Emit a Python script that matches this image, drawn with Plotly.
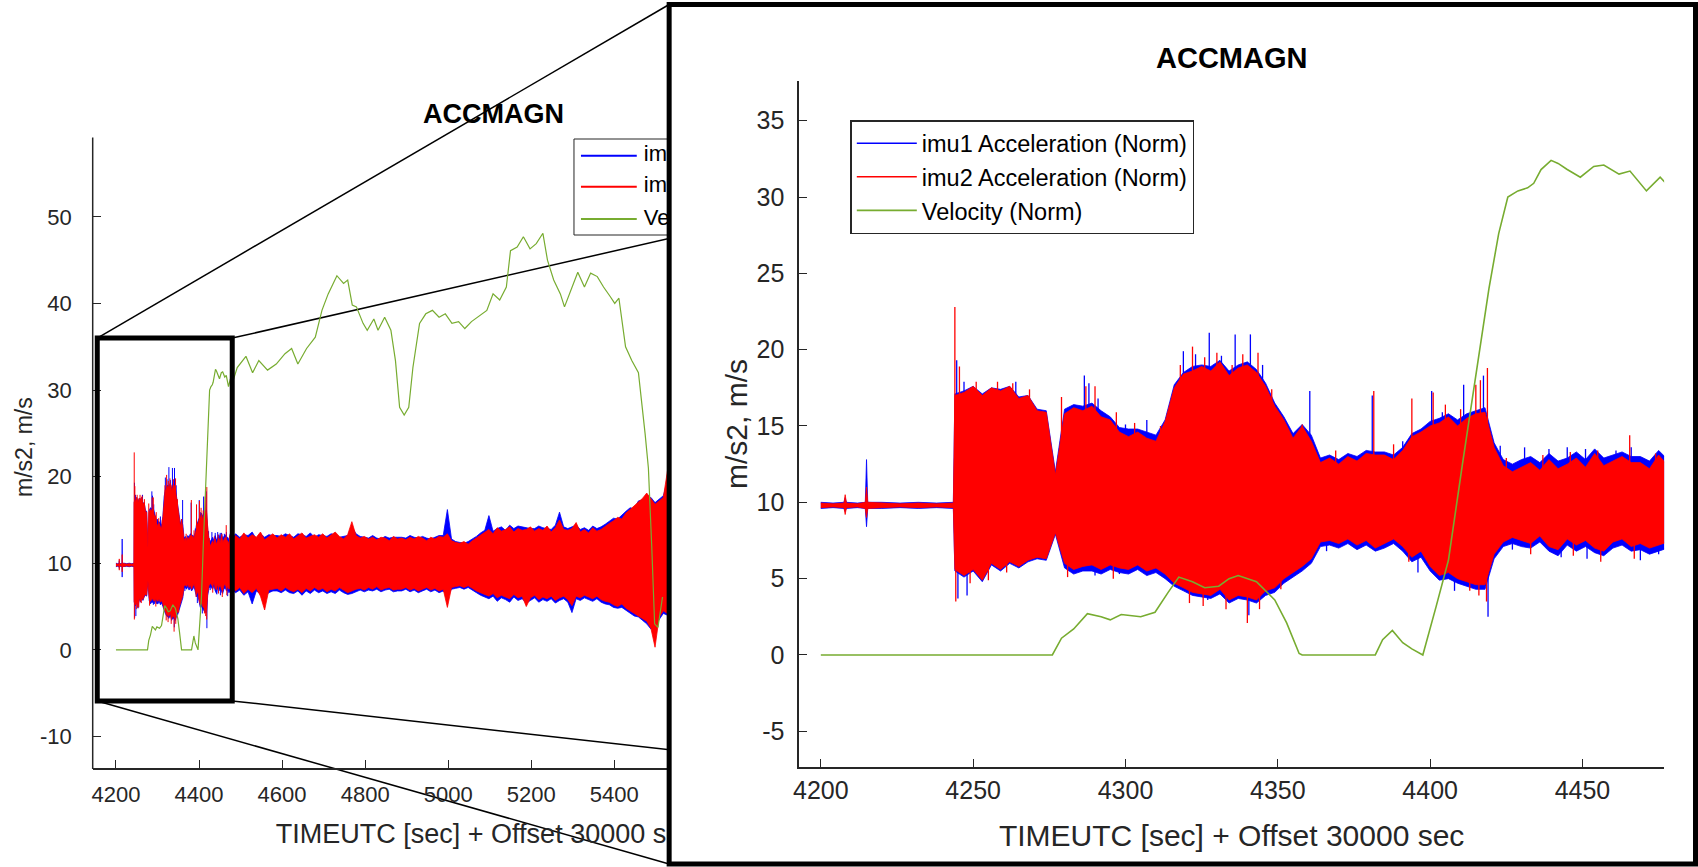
import plotly.graph_objects as go

W, H = 1698, 867
FONT = "Liberation Sans, Arial, Helvetica, sans-serif"
AX = "#262626"
C_IMU1 = "#0000FF"
C_IMU2 = "#FF0000"
C_VEL = "#77AC30"

TITLE = "ACCMAGN"
X_LABEL = "TIMEUTC [sec] + Offset 30000 sec"
Y_LABEL = "m/s2, m/s"
NAMES = ["imu1 Acceleration (Norm)", "imu2 Acceleration (Norm)", "Velocity (Norm)"]

MAIN_X_TICKS = [4200, 4400, 4600, 4800, 5000, 5200, 5400]
MAIN_Y_TICKS = [-10, 0, 10, 20, 30, 40, 50]
INS_X_TICKS = [4200, 4250, 4300, 4350, 4400, 4450]
INS_Y_TICKS = [-5, 0, 5, 10, 15, 20, 25, 30, 35]

# ---- acceleration norms: upper / lower edge of the dense noise band
PRE_T = [4200, 4204, 4207.6, 4208, 4208.4, 4212, 4214.6, 4215, 4215.4, 4220, 4226, 4232, 4238, 4243.5]
RU_PRE = [9.95, 9.9, 9.95, 10.5, 9.95, 9.9, 10.0, 11.0, 10.0, 9.95, 9.9, 9.95, 9.9, 9.95]
RL_PRE = [9.65, 9.7, 9.65, 9.2, 9.65, 9.7, 9.6, 9.0, 9.6, 9.65, 9.7, 9.65, 9.7, 9.65]
BU_PRE = [10.0, 9.95, 10.0, 10.3, 10.0, 9.95, 10.0, 12.8, 10.0, 10.0, 9.95, 10.0, 9.95, 10.0]
BL_PRE = [9.6, 9.65, 9.6, 9.4, 9.6, 9.65, 9.6, 8.4, 9.6, 9.6, 9.65, 9.6, 9.65, 9.6]

T_FINE = [4244, 4247, 4250, 4253, 4256, 4259, 4262, 4265, 4268, 4271, 4274, 4277,
          4280, 4283, 4286, 4289, 4292, 4295, 4298, 4301, 4304, 4307, 4310, 4313,
          4316, 4319, 4322, 4325, 4328, 4331, 4334, 4337, 4340, 4343,
          4346, 4349, 4352, 4355, 4358, 4361,
          4364, 4367, 4370, 4373, 4376, 4379, 4382, 4385, 4388, 4391,
          4394, 4397, 4400, 4403, 4406, 4409, 4412, 4415, 4418,
          4421, 4424, 4427, 4430, 4433, 4436, 4439, 4442, 4445, 4448,
          4451, 4454, 4457, 4460, 4463, 4466, 4469, 4472, 4475, 4478]
RU_FINE = [17.0, 17.2, 17.6, 17.0, 17.5, 17.3, 17.6, 16.8, 17.0, 16.0, 15.9, 11.8,
           15.8, 16.2, 16.0, 16.3, 15.6, 15.4, 14.6, 14.3, 14.6, 14.2, 14.0, 15.3,
           17.5, 18.4, 18.6, 18.9, 18.6, 19.2, 18.3, 18.8, 19.0, 18.5,
           17.6, 16.3, 15.4, 14.2, 15.0, 14.0,
           12.6, 12.9, 12.5, 13.0, 12.7, 13.2, 13.1, 13.1, 12.8, 13.4,
           14.3, 14.6, 15.0, 15.2, 15.6, 15.0, 15.5, 15.8, 15.9,
           13.6, 12.4, 12.0, 12.3, 12.6, 12.1, 12.8, 12.2, 12.5, 12.9,
           12.3, 13.2, 12.4, 12.7, 13.0, 12.6, 12.6, 12.2, 13.1, 12.4]
RL_FINE = [5.6, 5.2, 5.6, 4.9, 6.0, 5.6, 6.1, 5.8, 6.2, 6.4, 6.3, 8.0,
           6.0, 5.6, 5.8, 5.9, 5.6, 5.9, 5.7, 5.6, 5.9, 5.5, 5.7, 5.3,
           4.7, 4.4, 4.1, 4.0, 3.9, 4.3, 3.6, 3.9, 3.8, 3.6,
           4.2, 4.4, 5.0, 5.4, 5.8, 6.3,
           7.4, 7.5, 7.3, 7.6, 7.2, 7.5, 7.0, 7.3, 7.6, 7.1,
           6.4, 6.8, 5.8, 5.2, 5.4, 5.0, 4.8, 4.6, 4.6,
           6.6, 7.4, 7.7, 7.5, 7.3, 7.8, 7.1, 6.9, 7.6, 7.2,
           7.5, 7.0, 6.8, 7.4, 7.6, 7.1, 7.3, 7.0, 7.2, 7.4]
BU_FINE = [17.1, 17.3, 17.6, 17.1, 17.5, 17.4, 17.6, 16.9, 17.0, 16.1, 16.0, 12.0,
           16.1, 16.4, 16.3, 16.5, 16.0, 15.6, 14.9, 14.8, 14.8, 14.6, 14.4, 15.4,
           17.7, 18.5, 18.9, 19.0, 18.9, 19.3, 18.6, 19.0, 19.2, 18.7,
           17.8, 16.5, 15.6, 14.5, 15.1, 14.4,
           12.9, 13.1, 12.8, 13.2, 13.0, 13.4, 13.3, 13.3, 13.1, 13.6,
           14.5, 14.8, 15.3, 15.5, 15.8, 15.4, 15.8, 16.0, 16.2,
           13.9, 12.8, 12.5, 12.8, 13.0, 12.6, 13.2, 12.7, 12.9, 13.3,
           12.8, 13.5, 12.9, 13.1, 13.3, 13.0, 13.0, 12.7, 13.4, 12.8]
BL_FINE = [5.5, 5.1, 5.5, 4.8, 5.9, 5.5, 6.0, 5.7, 6.1, 6.3, 6.2, 7.9,
           5.7, 5.3, 5.5, 5.5, 5.3, 5.6, 5.4, 5.3, 5.6, 5.2, 5.4, 5.0,
           4.5, 4.2, 3.9, 3.8, 3.7, 4.0, 3.4, 3.7, 3.6, 3.4,
           3.9, 4.1, 4.7, 5.1, 5.5, 6.0,
           7.1, 7.2, 7.0, 7.3, 6.9, 7.2, 6.8, 7.0, 7.3, 6.8,
           6.1, 6.4, 5.5, 4.9, 5.0, 4.7, 4.5, 4.3, 4.3,
           6.3, 7.1, 7.3, 7.1, 7.0, 7.4, 6.8, 6.5, 7.2, 6.8,
           7.1, 6.7, 6.5, 7.0, 7.2, 6.8, 6.9, 6.6, 6.8, 7.0]

T_COARSE = [4488, 4498, 4508, 4518, 4528, 4538, 4548, 4558, 4568, 4578,
            4588, 4598, 4608, 4618, 4628, 4638, 4648, 4658, 4668, 4678,
            4688, 4698, 4708, 4718, 4728, 4738, 4748, 4758, 4768, 4778,
            4788, 4798, 4808, 4818, 4828, 4838, 4848, 4858, 4868, 4878,
            4888, 4898, 4908, 4918, 4928, 4938, 4948, 4958, 4968, 4978,
            4988, 4998, 5008, 5018, 5028, 5038, 5048, 5058, 5068, 5078,
            5088, 5098, 5108, 5118, 5128, 5138, 5148, 5158, 5168, 5178,
            5188, 5198, 5208, 5218, 5228, 5238, 5248, 5258, 5268, 5278,
            5288, 5298, 5308, 5318, 5328, 5338, 5348, 5358, 5368, 5378,
            5388, 5398, 5408, 5418, 5428, 5438, 5448, 5458, 5468, 5478,
            5488, 5498, 5508, 5518, 5528, 5538, 5548]
RU_COARSE = [13.2, 12.8, 13.5, 12.9, 13.3, 13.0, 13.6, 12.7, 13.1, 13.4,
             12.9, 13.3, 13.0, 13.4, 12.8, 13.2, 13.5, 12.9, 13.1, 13.3,
             13.0, 13.4, 12.9, 13.2, 13.6, 13.1, 12.8, 13.3, 14.8, 13.2,
             12.9, 13.1, 12.8, 13.0, 12.7, 13.0, 12.9, 12.6, 13.1, 12.8,
             12.9, 12.7, 13.0, 12.8, 13.1, 12.9, 12.6, 13.0, 12.8, 13.1,
             13.0, 13.4, 12.6, 12.4, 12.3, 12.5, 12.2, 12.6, 12.9, 13.3,
             13.6, 13.9, 13.4, 14.1, 13.7, 13.9, 14.2, 13.6, 14.0, 13.8,
             13.9, 14.2, 13.7, 14.0, 13.8, 14.3, 13.6, 14.1, 15.0, 13.9,
             13.8, 14.0, 14.7, 13.6, 13.9, 13.5, 14.1, 13.7, 13.9, 14.3,
             14.6, 14.9, 15.3, 15.1, 15.8, 16.2, 16.6, 17.0, 17.5, 18.1,
             17.4, 16.8, 17.2, 17.6, 20.7, 16.5, 15.8]
RL_COARSE = [6.8, 7.2, 6.5, 7.0, 6.6, 7.1, 6.2, 4.6, 6.9, 7.0,
             7.1, 6.8, 7.2, 6.9, 6.7, 7.0, 6.6, 7.1, 6.8, 7.2,
             6.9, 7.1, 6.7, 7.0, 6.8, 7.2, 6.9, 6.6, 6.8, 7.0,
             7.1, 6.9, 7.2, 7.0, 7.3, 6.9, 7.1, 7.2, 6.9, 7.0,
             7.0, 7.2, 6.9, 7.1, 6.8, 7.0, 7.2, 6.9, 7.1, 6.8,
             7.0, 4.9, 7.2, 7.3, 7.4, 7.2, 7.4, 7.1, 6.8, 6.6,
             6.4, 6.2, 6.5, 6.0, 6.3, 6.1, 5.9, 6.4, 6.0, 6.2,
             5.0, 6.0, 6.3, 5.8, 6.1, 5.9, 6.2, 5.7, 6.0, 6.2,
             5.8, 5.1, 6.2, 6.0, 6.3, 6.1, 5.9, 6.2, 5.8, 5.6,
             5.5, 5.2, 5.0, 5.3, 4.8, 4.6, 4.2, 4.0, 3.6, 3.3,
             2.5, 0.3, 3.8, 4.5, 4.2, 4.8, 5.2]
BU_COARSE = [13.4, 13.0, 13.3, 13.2, 13.6, 12.8, 13.4, 13.0, 13.3, 13.2,
             13.2, 13.1, 13.4, 13.2, 13.0, 13.4, 13.3, 13.1, 13.5, 13.0,
             13.3, 13.2, 13.1, 13.4, 13.3, 13.0, 13.1, 13.2, 14.2, 13.4,
             13.1, 13.0, 12.9, 13.2, 12.9, 12.8, 13.1, 12.9, 13.0, 13.0,
             13.0, 12.9, 13.2, 13.0, 12.9, 13.1, 12.9, 12.8, 13.0, 13.2,
             13.2, 16.2, 12.8, 12.5, 12.4, 12.3, 12.5, 12.8, 13.1, 13.5,
             13.8, 15.5, 13.7, 14.0, 14.2, 13.8, 14.4, 14.0, 14.3, 14.2,
             14.1, 14.0, 14.0, 14.3, 14.1, 14.0, 13.9, 14.4, 15.9, 14.2,
             14.0, 14.2, 14.4, 13.9, 14.1, 13.8, 14.3, 14.0, 14.2, 14.5,
             14.8, 15.2, 15.1, 15.6, 16.0, 16.4, 16.3, 17.2, 17.3, 17.6,
             17.6, 17.0, 17.4, 17.8, 19.5, 16.8, 16.0]
BL_COARSE = [6.6, 6.9, 6.3, 6.7, 5.3, 6.8, 6.4, 6.1, 6.6, 6.8,
             6.8, 6.6, 6.9, 6.6, 6.5, 6.8, 6.3, 6.8, 6.5, 6.9,
             6.6, 6.8, 6.5, 6.7, 6.5, 6.9, 6.6, 6.4, 6.5, 6.7,
             6.9, 6.7, 6.9, 6.8, 7.0, 6.7, 6.9, 7.0, 6.7, 6.8,
             6.8, 7.0, 6.7, 6.9, 6.6, 6.8, 7.0, 6.7, 6.9, 6.6,
             6.8, 6.2, 7.0, 7.1, 7.2, 7.0, 7.2, 6.9, 6.6, 6.3,
             6.1, 5.9, 6.2, 5.6, 6.0, 5.8, 5.5, 6.1, 5.7, 5.9,
             5.4, 5.7, 6.0, 5.5, 5.8, 5.6, 5.9, 5.4, 5.7, 5.9,
             5.5, 4.3, 5.9, 5.7, 6.0, 5.8, 5.6, 5.9, 5.5, 5.3,
             5.2, 4.9, 4.8, 4.9, 4.6, 4.2, 3.9, 3.8, 3.4, 3.0,
             2.4, 2.8, 3.5, 4.2, 4.0, 4.5, 5.0]

# isolated single-sample peaks sticking out of the band (time, value reached)
RED_SPIKE_T = [4244, 4245.5, 4251, 4258, 4263, 4268.5, 4279, 4287, 4290, 4297, 4303, 4311.5,
               4318, 4322, 4326, 4330, 4335, 4338.5, 4343.5, 4348, 4358, 4369, 4381.5, 4388,
               4394, 4401, 4405, 4410, 4415, 4416.5, 4418.8, 4425, 4437, 4446, 4455, 4465.5, 4474,
               4244.3, 4249, 4255, 4261, 4281, 4296, 4321, 4325.5, 4333, 4340, 4344, 4351,
               4393, 4413, 4416, 4418.5, 4433, 4447, 4456, 4467]
RED_SPIKE_V = [22.8, 18.9, 17.9, 17.9, 17.8, 17.4, 16.9, 17.6, 17.6, 15.9, 15.2, 15.0,
               19.0, 20.2, 19.5, 19.8, 19.0, 19.7, 19.8, 17.4, 15.1, 13.4, 17.3, 13.8,
               16.8, 17.2, 16.4, 16.1, 17.7, 18.0, 18.8, 12.9, 13.1, 13.3, 13.4, 14.4, 13.2,
               3.5, 4.7, 4.9, 5.4, 5.1, 5.0, 3.4, 3.2, 3.0, 2.1, 3.0, 4.3,
               6.1, 4.2, 3.9, 3.5, 6.6, 6.5, 6.1, 6.3]
BLUE_SPIKE_T = [4244.6, 4247, 4264, 4286.5, 4288, 4291, 4300, 4307, 4319, 4323, 4327.5, 4331.5,
                4336, 4341, 4345, 4360.5, 4381, 4391, 4400.5, 4404, 4411, 4417.5, 4423, 4431,
                4439, 4445, 4451, 4461, 4466,
                4245, 4248, 4290, 4298, 4327, 4340.5, 4366, 4396, 4408, 4419, 4427, 4443,
                4451.5, 4469, 4475]
BLUE_SPIKE_V = [19.3, 17.9, 17.9, 18.3, 17.8, 16.8, 15.1, 15.4, 19.9, 19.7, 21.1, 19.6,
                21.0, 21.0, 19.0, 17.3, 17.0, 14.0, 17.3, 15.9, 17.7, 18.3, 13.7, 13.6,
                13.5, 13.6, 13.5, 13.4, 13.6,
                3.7, 3.9, 5.2, 5.3, 3.6, 2.6, 6.8, 5.4, 4.2, 2.5, 6.9, 6.4,
                6.3, 6.2, 6.6]
SPIKE_BASE = 9.8

# ---- velocity norm
VEL_T = [4200, 4276, 4279, 4283, 4287.5, 4292, 4295, 4298.6, 4305, 4309.7, 4314, 4317.5,
         4322, 4326, 4330.6, 4334, 4337, 4343, 4349, 4352.9, 4357, 4358, 4382, 4384.4,
         4387.6, 4391, 4394, 4397.6, 4402, 4406, 4410.6, 4414, 4419.3, 4422.5, 4425.5,
         4428.8, 4432, 4434, 4436.4, 4439.7, 4442, 4445, 4449.3, 4453.7, 4457, 4462,
         4465.6, 4471, 4475.5, 4478.8,
         4492, 4513, 4529, 4544, 4565, 4586, 4607, 4623, 4638, 4659, 4680, 4696, 4711,
         4732, 4748, 4758, 4769, 4779, 4795, 4805, 4821, 4831, 4847, 4862, 4873, 4883,
         4894, 4905, 4915, 4931, 4946, 4962, 4978, 4993, 5009, 5025, 5040, 5056, 5077,
         5093, 5108, 5124, 5140, 5150, 5166, 5181, 5197, 5212, 5228, 5239, 5254, 5270,
         5280, 5296, 5312, 5328, 5343, 5359, 5374, 5390, 5401, 5411, 5427, 5442, 5458,
         5474, 5482, 5490, 5497, 5505, 5516]
VEL_V = [0.0, 0.0, 1.1, 1.7, 2.7, 2.5, 2.3, 2.65, 2.5, 2.8, 4.1, 5.1,
         4.8, 4.4, 4.5, 5.0, 5.2, 4.8, 3.6, 2.1, 0.1, 0.0, 0.0, 1.0,
         1.6, 0.8, 0.4, 0.0, 3.2, 6.2, 12.5, 17.0, 24.0, 27.6, 30.0,
         30.4, 30.6, 30.9, 31.8, 32.4, 32.2, 31.8, 31.3, 32.0, 32.1, 31.5,
         31.7, 30.4, 31.3, 30.6,
         32.6, 33.9, 32.0, 33.4, 32.3, 33.0, 34.2, 34.8, 33.0, 34.8, 36.1, 39.2, 41.1,
         43.2, 42.3, 42.7, 39.8, 39.6, 37.7, 36.9, 38.2, 36.9, 38.4, 36.9, 33.4, 28.0,
         27.1, 28.0, 32.6, 37.7, 38.8, 39.2, 38.4, 38.8, 37.7, 37.9, 37.1, 37.9, 38.6,
         39.2, 41.1, 40.4, 41.9, 46.1, 46.5, 47.7, 46.3, 46.9, 48.1, 45.0, 42.7, 41.1,
         39.6, 41.5, 43.6, 41.9, 43.5, 43.1, 41.9, 40.8, 40.0, 40.6, 35.0, 33.4, 32.0,
         25.0, 21.0, 12.0, 3.0, 2.6, 6.1]

T_ALL = PRE_T + T_FINE + T_COARSE
RU = RU_PRE + RU_FINE + RU_COARSE
RL = RL_PRE + RL_FINE + RL_COARSE
BU = BU_PRE + BU_FINE + BU_COARSE
BL = BL_PRE + BL_FINE + BL_COARSE

# ---- layout geometry (pixels)
MAIN_L, MAIN_R, MAIN_T, MAIN_B = 87, 885, 137.5, 769     # main axes box (x-axis line at MAIN_B)
MAIN_DB = 867                                            # main y domain runs to the bottom edge
MAIN_XR = [4144, 6058.6]
AXIS_YR = [-13.76, 59.16]                                # values at MAIN_B and MAIN_T
INS_L, INS_R, INS_T, INS_B = 796, 1664, 81, 767
INS_XR = [4192.9, 4476.8]
INS_YR = [-7.34, 37.6]
FRAME = (665.5, 4.5, 1695.5, 864.0)
ZOOM_X = (4155, 4480)
ZOOM_Y = (-5.9, 36.0)


def fx(p):
    return p / W


def fy(p):
    return 1 - p / H


def mx(v):
    return MAIN_L + (v - MAIN_XR[0]) / (MAIN_XR[1] - MAIN_XR[0]) * (MAIN_R - MAIN_L)


def my(v):
    return MAIN_B - (v - AXIS_YR[0]) / (AXIS_YR[1] - AXIS_YR[0]) * (MAIN_B - MAIN_T)


def imx(p):
    return MAIN_XR[0] + (p - MAIN_L) / (MAIN_R - MAIN_L) * (MAIN_XR[1] - MAIN_XR[0])


def imy(p):
    return AXIS_YR[0] + (MAIN_B - p) / (MAIN_B - MAIN_T) * (AXIS_YR[1] - AXIS_YR[0])


MAIN_YR = [imy(MAIN_DB), AXIS_YR[1]]


def band(upper, lower):
    return T_ALL + T_ALL[::-1], upper + lower[::-1]


def spikes(ts, vs):
    xs, ys = [], []
    for t, v in zip(ts, vs):
        xs += [t, t, None]
        ys += [SPIKE_BASE, v, None]
    return xs, ys


fig = go.Figure()

for xa, ya, vw, sw in (("x", "y", 1.2, 1.0), ("x3", "y3", 1.6, 1.3)):
    if xa == "x3":
        # invisible subplot whose white background hides the main plot behind the magnified view
        fig.add_trace(go.Scatter(x=[None], y=[None], xaxis="x2", yaxis="y2", mode="lines",
                                 showlegend=False, hoverinfo="skip"))
    for up, lo, st, sv, col in ((BU, BL, BLUE_SPIKE_T, BLUE_SPIKE_V, C_IMU1),
                                (RU, RL, RED_SPIKE_T, RED_SPIKE_V, C_IMU2)):
        bx, by = band(up, lo)
        fig.add_trace(go.Scatter(x=bx, y=by, mode="lines", fill="toself", fillcolor=col,
                                 line=dict(color=col, width=0.8), xaxis=xa, yaxis=ya,
                                 showlegend=False, hoverinfo="skip"))
        sx, sy = spikes(st, sv)
        fig.add_trace(go.Scatter(x=sx, y=sy, mode="lines", line=dict(color=col, width=sw),
                                 xaxis=xa, yaxis=ya, showlegend=False, hoverinfo="skip"))
    if xa == "x3":
        fig.add_trace(go.Scatter(x=[None], y=[None], mode="lines", name=NAMES[0],
                                 line=dict(color=C_IMU1, width=1.5), xaxis=xa, yaxis=ya))
        fig.add_trace(go.Scatter(x=[None], y=[None], mode="lines", name=NAMES[1],
                                 line=dict(color=C_IMU2, width=1.5), xaxis=xa, yaxis=ya))
    fig.add_trace(go.Scatter(x=VEL_T, y=VEL_V, mode="lines", name=NAMES[2],
                             line=dict(color=C_VEL, width=vw), xaxis=xa, yaxis=ya,
                             showlegend=(xa == "x3"), hoverinfo="skip"))

# main-plot legend and x label (partly hidden behind the magnified view)
ML_BOX = (570, 139, 880, 235)
ML_ROWS = [155.7, 186.7, 219.0]
ML_LINE = (577, 633)
ML_TEXT_X = 640
fig.add_trace(go.Scatter(x=[imx(ML_TEXT_X)] * 3, y=[imy(r) for r in ML_ROWS], mode="text",
                         text=NAMES, textposition="middle right", cliponaxis=True,
                         textfont=dict(size=22, color="black", family=FONT),
                         xaxis="x", yaxis="y", showlegend=False, hoverinfo="skip"))
MAIN_XLABEL_POS = (481, 836)
fig.add_trace(go.Scatter(x=[imx(MAIN_XLABEL_POS[0])], y=[imy(MAIN_XLABEL_POS[1])], mode="text",
                         text=[X_LABEL], textposition="middle center", cliponaxis=True,
                         textfont=dict(size=27, color=AX, family=FONT),
                         xaxis="x", yaxis="y", showlegend=False, hoverinfo="skip"))

shapes = [dict(type="rect", xref="x", yref="y", layer="below",
               x0=imx(ML_BOX[0]), x1=imx(ML_BOX[2]), y0=imy(ML_BOX[3]), y1=imy(ML_BOX[1]),
               line=dict(color=AX, width=1), fillcolor="white")]
for r, c in zip(ML_ROWS, (C_IMU1, C_IMU2, C_VEL)):
    shapes.append(dict(type="line", xref="x", yref="y", layer="below",
                       x0=imx(ML_LINE[0]), x1=imx(ML_LINE[1]), y0=imy(r), y1=imy(r),
                       line=dict(color=c, width=2)))
# main y-axis line (the y domain extends below the x axis)
shapes.append(dict(type="line", xref="paper", yref="paper", layer="above",
                   x0=fx(MAIN_L), x1=fx(MAIN_L), y0=fy(MAIN_B), y1=fy(MAIN_T),
                   line=dict(color=AX, width=1.5)))

# zoom rectangle on the main plot
shapes.append(dict(type="rect", xref="x", yref="y", layer="above",
                   x0=ZOOM_X[0], x1=ZOOM_X[1], y0=ZOOM_Y[0], y1=ZOOM_Y[1],
                   line=dict(color="black", width=5)))
# connector lines from the zoom rectangle to the magnified frame
corners_src = [(mx(ZOOM_X[0]), my(ZOOM_Y[1])), (mx(ZOOM_X[1]), my(ZOOM_Y[1])),
               (mx(ZOOM_X[0]), my(ZOOM_Y[0])), (mx(ZOOM_X[1]), my(ZOOM_Y[0]))]
corners_dst = [(FRAME[0], FRAME[1]), (FRAME[2], FRAME[1]), (FRAME[0], FRAME[3]), (FRAME[2], FRAME[3])]
for (sx_, sy_), (dx, dy) in zip(corners_src, corners_dst):
    shapes.append(dict(type="line", xref="paper", yref="paper", layer="below",
                       x0=fx(sx_), y0=fy(sy_), x1=fx(dx), y1=fy(dy),
                       line=dict(color="black", width=1.5)))
# magnified frame
shapes.append(dict(type="rect", xref="paper", yref="paper", layer="above",
                   x0=fx(FRAME[0]), x1=fx(FRAME[2]), y0=fy(FRAME[3]), y1=fy(FRAME[1]),
                   line=dict(color="black", width=5)))


def axis_style(tick_size, title_size, standoff, label_standoff, tickvals):
    return dict(showgrid=False, zeroline=False, showline=True, linecolor=AX, linewidth=1.5,
                ticks="inside", ticklen=8, tickwidth=1, tickcolor=AX,
                tickmode="array", tickvals=tickvals, ticktext=[str(v) for v in tickvals],
                ticklabelstandoff=label_standoff,
                tickfont=dict(size=tick_size, family=FONT, color=AX),
                title=dict(font=dict(size=title_size, family=FONT, color=AX), standoff=standoff),
                fixedrange=True)


xa1 = axis_style(22, 26, 14, 6, MAIN_X_TICKS)
xa1.update(domain=[fx(MAIN_L), fx(MAIN_R)], range=MAIN_XR, anchor="free", position=fy(MAIN_B))
ya1 = axis_style(22, 24, 6, 20, MAIN_Y_TICKS)
ya1.update(domain=[fy(MAIN_DB), fy(MAIN_T)], range=MAIN_YR, anchor="x", showline=False)

xa3 = axis_style(25, 30, 22, 0, INS_X_TICKS)
xa3.update(domain=[fx(INS_L), fx(INS_R)], range=INS_XR, anchor="y3")
xa3["title"]["text"] = X_LABEL
ya3 = axis_style(25, 30, 0, 8, INS_Y_TICKS)
ya3.update(domain=[fy(INS_B), fy(INS_T)], range=INS_YR, anchor="x3")
ya3["title"]["text"] = Y_LABEL

fig.update_layout(
    width=W, height=H, margin=dict(l=0, r=0, t=0, b=0),
    paper_bgcolor="white", plot_bgcolor="white",
    font=dict(family=FONT, color=AX),
    xaxis=xa1, yaxis=ya1,
    xaxis2=dict(domain=[fx(664), fx(1697)], range=[0, 1], visible=False, anchor="y2", fixedrange=True),
    yaxis2=dict(domain=[fy(866), fy(2)], range=[0, 1], visible=False, anchor="x2", fixedrange=True),
    xaxis3=xa3, yaxis3=ya3,
    shapes=shapes,
    showlegend=True,
    legend=dict(x=fx(847.3), y=fy(120), xanchor="left", yanchor="top",
                bgcolor="white", bordercolor=AX, borderwidth=1.5,
                font=dict(size=23.5, family=FONT, color="black"), itemwidth=60,
                tracegroupgap=0),
    annotations=[
        dict(text="<b>" + TITLE + "</b>", x=fx(489), y=fy(114), xref="paper", yref="paper",
             showarrow=False, xanchor="center", yanchor="middle",
             font=dict(size=27, family=FONT, color="black")),
        dict(text="<b>" + TITLE + "</b>", x=fx(1230), y=fy(58), xref="paper", yref="paper",
             showarrow=False, xanchor="center", yanchor="middle",
             font=dict(size=29, family=FONT, color="black")),
        dict(text=Y_LABEL, x=fx(18), y=fy(447), xref="paper", yref="paper", textangle=-90,
             showarrow=False, xanchor="center", yanchor="middle",
             font=dict(size=23, family=FONT, color=AX)),
    ],
    hovermode=False,
)

fig.write_html("out.html")
